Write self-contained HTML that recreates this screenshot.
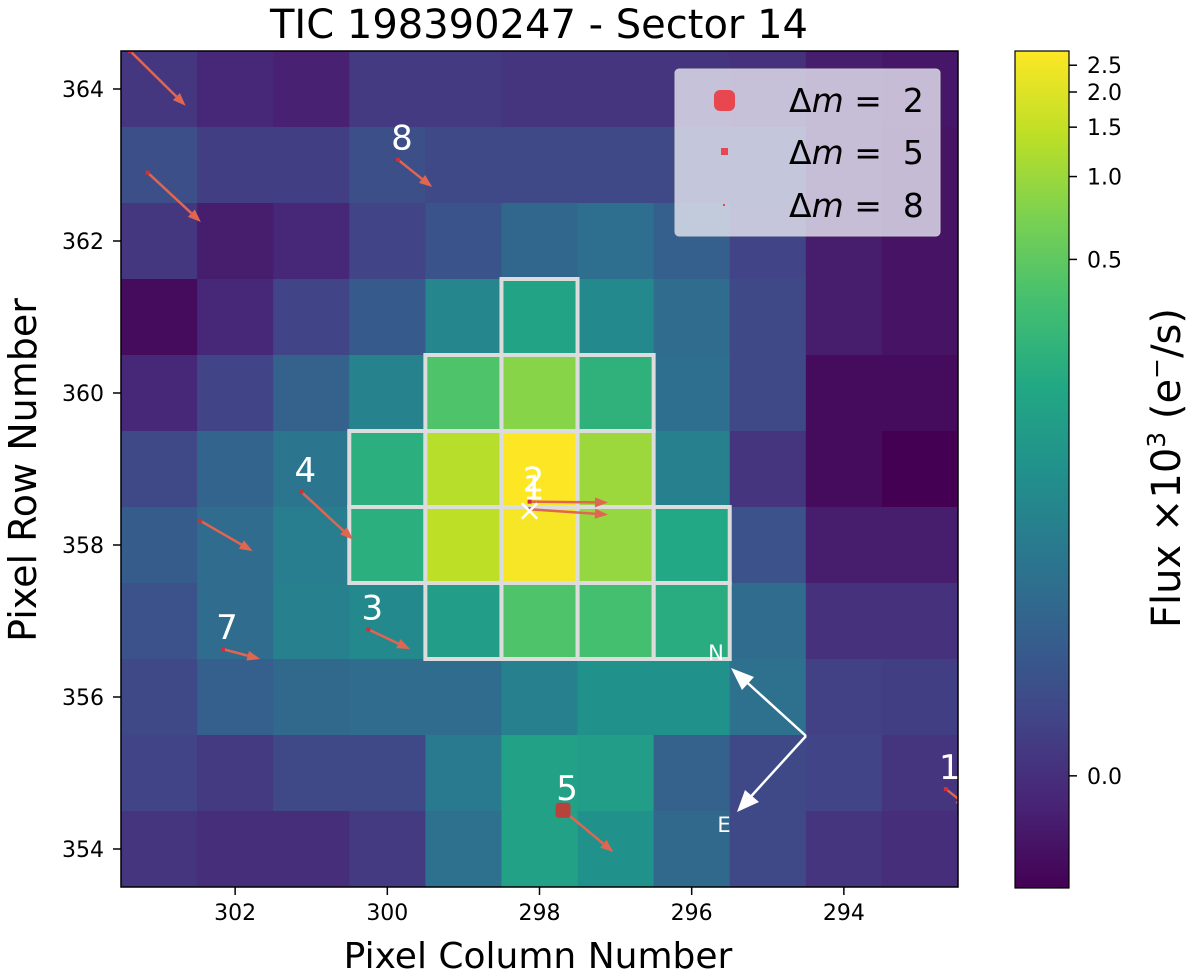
<!DOCTYPE html>
<html><head><meta charset="utf-8">
<style>
html,body{margin:0;padding:0;background:#fff;}
svg{display:block;font-family:"DejaVu Sans","Liberation Sans",sans-serif;}
</style></head>
<body>
<svg id="chart" width="1200" height="978" viewBox="0 0 1200 978" xmlns="http://www.w3.org/2000/svg">
<defs>
<linearGradient id="vir" x1="0" y1="1" x2="0" y2="0">
<stop offset="0" stop-color="#440154"/><stop offset="0.1" stop-color="#482475"/><stop offset="0.2" stop-color="#414487"/><stop offset="0.3" stop-color="#355f8d"/><stop offset="0.4" stop-color="#2a788e"/><stop offset="0.5" stop-color="#21918c"/><stop offset="0.6" stop-color="#22a884"/><stop offset="0.7" stop-color="#44bf70"/><stop offset="0.8" stop-color="#7ad151"/><stop offset="0.9" stop-color="#bddf26"/><stop offset="1" stop-color="#fde725"/>
</linearGradient>
<clipPath id="plotclip"><rect x="121" y="51" width="837" height="836"/></clipPath>
</defs>
<text x="539" y="38" font-size="40" text-anchor="middle">TIC 198390247 - Sector 14</text>
<g id="cells" clip-path="url(#plotclip)"></g>
<g id="aperture"></g>
<g id="stars" clip-path="url(#plotclip)"></g>
<g id="compass">
<line x1="806" y1="736" x2="740" y2="676" stroke="#fff" stroke-width="2.5"/>
<polygon points="731,668 754,677 742,690" fill="#fff"/>
<line x1="806" y1="736" x2="745" y2="803" stroke="#fff" stroke-width="2.5"/>
<polygon points="737,812 745,790 759,802" fill="#fff"/>
<text x="716" y="660" font-size="21" fill="#fff" text-anchor="middle">N</text>
<text x="724" y="832" font-size="21" fill="#fff" text-anchor="middle">E</text>
</g>
<rect x="121" y="51" width="837" height="836" fill="none" stroke="#000" stroke-width="1.5"/>
<g id="axes"></g>
<g>
<rect x="675" y="69" width="265" height="167" rx="4" fill="#e6e6f0" fill-opacity="0.8" stroke="#ccc"/>
<rect x="714" y="90" width="21" height="21" rx="6" fill="#e8474f"/>
<text x="789" y="112" font-size="33">Δ<tspan font-style="italic">m</tspan> =&#160;&#160;2</text>
<rect x="721" y="148" width="7" height="7" fill="#e8474f"/>
<text x="789" y="164" font-size="33">Δ<tspan font-style="italic">m</tspan> =&#160;&#160;5</text>
<rect x="723" y="204" width="2" height="2" fill="#e8474f"/>
<text x="789" y="217" font-size="33">Δ<tspan font-style="italic">m</tspan> =&#160;&#160;8</text>
</g>
<rect x="1015" y="51" width="54" height="837" fill="url(#vir)" stroke="#000" stroke-width="1.2"/>
<g id="cbticks"></g>
<text x="538" y="968" font-size="36" text-anchor="middle">Pixel Column Number</text>
<text transform="translate(36,470) rotate(-90)" font-size="38" text-anchor="middle">Pixel Row Number</text>
<text transform="translate(1180,468) rotate(-90)" font-size="40" text-anchor="middle">Flux ×10<tspan font-size="25" dy="-15">3</tspan><tspan dy="15"> (e</tspan><tspan font-size="25" dy="-15">−</tspan><tspan dy="15">/s)</tspan></text>
</svg>
<script>
const columns = [303,302,301,300,299,298,297,296,295,294,293];
const rows = [364,363,362,361,360,359,358,357,356,355,354];
const flux = [
[0.16,0.11,0.09,0.17,0.17,0.15,0.15,0.15,0.14,0.08,0.06],
[0.24,0.18,0.18,0.24,0.22,0.22,0.22,0.22,0.22,0.08,0.05],
[0.16,0.08,0.11,0.20,0.26,0.33,0.36,0.30,0.20,0.08,0.05],
[0.03,0.11,0.20,0.28,0.46,0.58,0.47,0.35,0.22,0.08,0.05],
[0.11,0.20,0.31,0.44,0.72,0.82,0.64,0.36,0.22,0.03,0.03],
[0.22,0.32,0.39,0.63,0.89,1.00,0.85,0.43,0.15,0.03,0.00],
[0.29,0.35,0.42,0.63,0.90,0.99,0.84,0.60,0.25,0.08,0.08],
[0.25,0.35,0.43,0.47,0.55,0.72,0.70,0.62,0.35,0.14,0.14],
[0.22,0.30,0.34,0.35,0.35,0.43,0.50,0.50,0.37,0.19,0.18],
[0.20,0.17,0.22,0.22,0.41,0.57,0.55,0.31,0.22,0.20,0.15],
[0.15,0.13,0.13,0.17,0.37,0.57,0.50,0.34,0.22,0.15,0.13]
];
const apertureRows = [361,360,360,360,359,359,359,359,358,358,358,358,358,357,357,357,357];
const apertureCols = [298,299,298,297,300,299,298,297,300,299,298,297,296,299,298,297,296];
const xTicks = [302,300,298,296,294];
const yTicks = [364,362,360,358,356,354];
const cbTickLabels = ["2.5","2.0","1.5","1.0","0.5","0.0"];
const cbTickFrac = [0.983,0.951,0.909,0.850,0.751,0.134];
const starLabels = ["","","8","4","","7","3","2","1","5","1"];
const starCol = [303.38,303.15,299.86,301.13,302.46,302.16,300.25,298.13,298.13,297.69,292.66];
const starRow = [364.5,362.9,363.07,358.70,358.32,356.63,356.89,358.57,358.47,354.51,354.79];
const starDCol = [-0.73,-0.70,-0.45,-0.68,-0.69,-0.49,-0.55,-1.03,-1.03,-0.66,-0.30];
const starDRow = [-0.72,-0.65,-0.36,-0.63,-0.40,-0.13,-0.26,-0.01,-0.07,-0.55,-0.24];
const starSize = [4,4,4,4,4,4,4,4,4,15,4];

const NS='http://www.w3.org/2000/svg';
const X0=121,Y0=51,CW=837/11,CH=836/11;
const xs=c=>X0+(303.5-c)*CW;
const ys=r=>Y0+(364.5-r)*CH;
const stops=[[68,1,84],[72,36,117],[65,68,135],[53,95,141],[42,120,142],[33,145,140],[34,168,132],[68,191,112],[122,209,81],[189,223,38],[253,231,37]];
function vir(t){t=Math.max(0,Math.min(1,t));const p=t*10,i=Math.min(9,Math.floor(p)),f=p-i;
const a=stops[i],b=stops[i+1];return 'rgb('+a.map((v,k)=>Math.round(v+(b[k]-v)*f)).join(',')+')';}
function mk(tag,attrs,parent){const e=document.createElementNS(NS,tag);for(const k in attrs)e.setAttribute(k,attrs[k]);parent.appendChild(e);return e;}

const gc=document.getElementById('cells');
rows.forEach((r,i)=>columns.forEach((c,j)=>{
  const e=mk('rect',{x:xs(c+0.5),y:ys(r+0.5),width:CW+0.6,height:CH+0.6,fill:vir(flux[i][j])},gc);
  
  
}));
const ga=document.getElementById('aperture');
apertureRows.forEach((r,i)=>{
  const c=apertureCols[i];
  const e=mk('rect',{x:xs(c+0.5),y:ys(r+0.5),width:CW,height:CH,fill:'none',stroke:'#dcdcdc','stroke-width':4},ga);
  
  
});
const gs=document.getElementById('stars');
starCol.forEach((c,i)=>{
  const x1=xs(c),y1=ys(starRow[i]),x2=xs(c+starDCol[i]),y2=ys(starRow[i]+starDRow[i]);
  const g=mk('g',{},gs);
  
  
  const dx=x2-x1,dy=y2-y1,L=Math.hypot(dx,dy),ux=dx/L,uy=dy/L,hl=13,hw=5;
  const bx=x2-ux*hl,by=y2-uy*hl;
  mk('line',{x1:x1,y1:y1,x2:bx,y2:by,stroke:'#e06650','stroke-width':2.5},g);
  mk('polygon',{points:[x2,y2,bx-uy*hw,by+ux*hw,bx+uy*hw,by-ux*hw].join(','),fill:'#e06650'},g);
  const s=starSize[i];
  mk('rect',{x:x1-s/2,y:y1-s/2,width:s,height:s,rx:s>6?3:0,fill:s>6?'#b8433b':'#d0303a'},g);
  if(starLabels[i]){const t=mk('text',{x:x1+4,y:y1-10,'font-size':34,fill:'#fff','text-anchor':'middle'},g);t.textContent=starLabels[i];}
});
const tc=mk('text',{x:xs(298.13),y:ys(358.47)+11,'font-size':30,fill:'#fff','text-anchor':'middle'},gs);
tc.textContent='×';



const gx=document.getElementById('axes');
xTicks.forEach(v=>{
  const l=mk('line',{x1:xs(v),y1:887,x2:xs(v),y2:895,stroke:'#000','stroke-width':1.5},gx);
  
  
  const t=mk('text',{x:xs(v),y:920,'font-size':22,'text-anchor':'middle'},gx);t.textContent=v;
  
  
});
yTicks.forEach(v=>{
  const l=mk('line',{x1:113,y1:ys(v),x2:121,y2:ys(v),stroke:'#000','stroke-width':1.5},gx);
  
  
  const t=mk('text',{x:104,y:ys(v)+8,'font-size':22,'text-anchor':'end'},gx);t.textContent=v;
  
  
});
const gcb=document.getElementById('cbticks');
cbTickLabels.forEach((lab,i)=>{
  const y=888-cbTickFrac[i]*837;
  const l=mk('line',{x1:1069,y1:y,x2:1077,y2:y,stroke:'#000','stroke-width':1.5},gcb);
  
  
  const t=mk('text',{x:1087,y:y+8,'font-size':22},gcb);t.textContent=lab;
  
  
});
</script>
</body></html>
